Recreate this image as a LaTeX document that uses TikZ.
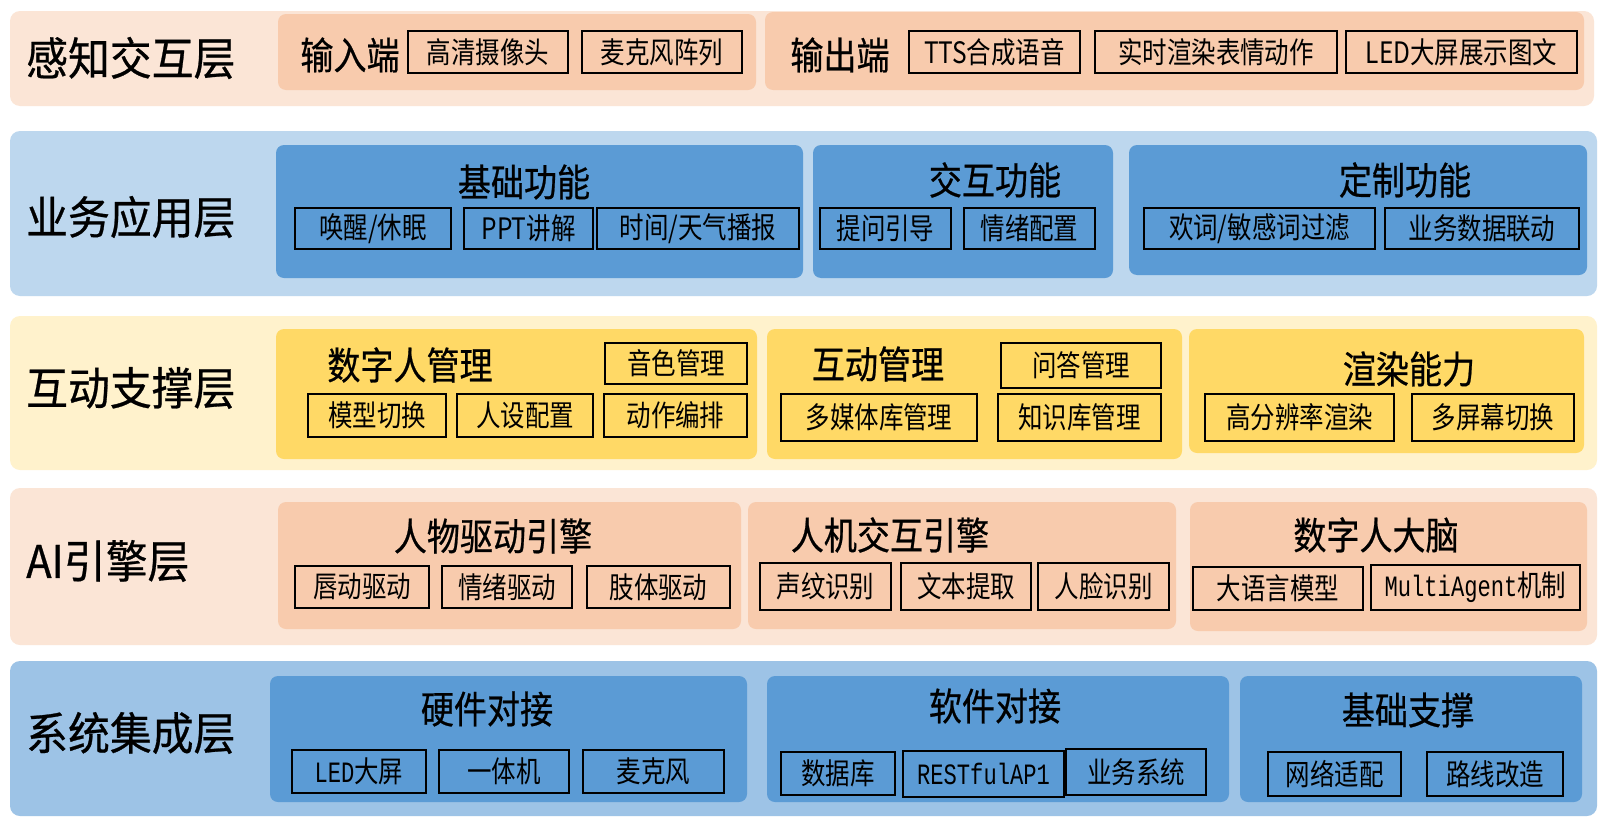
\documentclass[tikz,border=0pt]{standalone}
\usepackage{fontspec}
\setmainfont{Noto Sans CJK SC}
\newfontfamily\itemfont[FakeStretch=0.83]{Noto Sans CJK SC}
\newfontfamily\headfont[FakeStretch=0.87,FakeBold=0.6]{Noto Sans CJK SC}
\newfontfamily\layerfont[FakeStretch=0.93,FakeBold=0.6]{Noto Sans CJK SC}
\newfontfamily\itemmono[FakeStretch=0.75]{Liberation Mono}
\definecolor{peachband}{HTML}{FBE5D6}
\definecolor{peachgrp}{HTML}{F8CBAD}
\definecolor{blueband}{HTML}{BDD7EE}
\definecolor{blueband2}{HTML}{9DC3E6}
\definecolor{bluegrp}{HTML}{5B9BD5}
\definecolor{yelband}{HTML}{FFF2CC}
\definecolor{yelgrp}{HTML}{FFD966}
\newcommand\mkbox[7][]{\node[#1, minimum width={(#5-#3)*1pt}, minimum height={(#6-#4)*1pt}] (#2) at ({(#3+#5)/2},{(#4+#6)/2}) {#7};}
\tikzset{
  band/.style={rectangle, rounded corners=10pt, inner sep=0pt, draw=none},
  grp/.style={rectangle, rounded corners=8pt, inner sep=0pt, draw=none},
  item/.style={rectangle, draw=black, line width=1.8pt, inner sep=0pt, font=\itemfont\fontsize{29.5}{32}\selectfont},
  head/.style={inner sep=0pt, font=\headfont\fontsize{38}{40}\selectfont},
  layer/.style={inner sep=0pt, anchor=west, font=\layerfont\fontsize{45}{48}\selectfont}
}
\begin{document}
\begin{tikzpicture}[x=1pt,y=-1pt]
\fill[white] (0,0) rectangle (1600,819);
\useasboundingbox (0,0) rectangle (1600,819);
% ---------- bands
\mkbox[band, fill=peachband]{b1}{10}{11}{1594}{106}{}
\mkbox[band, fill=blueband]{b2}{10}{131}{1597}{296}{}
\mkbox[band, fill=yelband]{b3}{10}{316}{1597}{470}{}
\mkbox[band, fill=peachband]{b4}{10}{488}{1597}{645}{}
\mkbox[band, fill=blueband2]{b5}{10}{661}{1597}{816}{}
% ---------- layer titles
\node[layer] (l1) at (26,58) {感知交互层};
\node[layer] (l2) at (26,217) {业务应用层};
\node[layer] (l3) at (26,388) {互动支撑层};
\node[layer] (l4) at (26,561) {AI引擎层};
\node[layer] (l5) at (26,733) {系统集成层};
% ---------- row 1
\mkbox[grp, fill=peachgrp]{g1a}{278}{14}{756}{90}{}
\mkbox[grp, fill=peachgrp]{g1b}{765}{12}{1584}{90}{}
\node[head] (h1a) at (350,55) {输入端};
\node[head] (h1b) at (840,55) {输出端};
\mkbox[item]{i11}{408}{31}{568}{73}{高清摄像头}
\mkbox[item]{i12}{582}{31}{742}{73}{麦克风阵列}
\mkbox[item]{i13}{909}{31}{1080}{73}{TTS合成语音}
\mkbox[item]{i14}{1095}{31}{1337}{73}{实时渲染表情动作}
\mkbox[item]{i15}{1346}{31}{1577}{73}{LED大屏展示图文}
% ---------- row 2
\mkbox[grp, fill=bluegrp]{g2a}{276}{145}{803}{278}{}
\mkbox[grp, fill=bluegrp]{g2b}{813}{145}{1113}{278}{}
\mkbox[grp, fill=bluegrp]{g2c}{1129}{145}{1587}{275}{}
\node[head] (h2a) at (524,182) {基础功能};
\node[head] (h2b) at (995,180) {交互功能};
\node[head] (h2c) at (1405,180) {定制功能};
\mkbox[item]{i21}{295}{208}{451}{249}{唤醒/休眠}
\mkbox[item]{i22}{464}{208}{593}{249}{PPT讲解}
\mkbox[item]{i23}{597}{208}{799}{249}{时间/天气播报}
\mkbox[item]{i24}{820}{208}{951}{249}{提问引导}
\mkbox[item]{i25}{964}{208}{1095}{249}{情绪配置}
\mkbox[item]{i26}{1144}{208}{1375}{249}{欢词/敏感词过滤}
\mkbox[item]{i27}{1385}{208}{1579}{249}{业务数据联动}
% ---------- row 3
\mkbox[grp, fill=yelgrp]{g3a}{276}{329}{757}{459}{}
\mkbox[grp, fill=yelgrp]{g3b}{767}{329}{1182}{459}{}
\mkbox[grp, fill=yelgrp]{g3c}{1189}{329}{1584}{453}{}
\node[head] (h3a) at (410,365) {数字人管理};
\node[head] (h3b) at (878,364) {互动管理};
\node[head] (h3c) at (1409,369) {渲染能力};
\mkbox[item]{i31}{605}{343}{747}{384}{音色管理}
\mkbox[item]{i32}{308}{394}{446}{437}{模型切换}
\mkbox[item]{i33}{457}{394}{593}{437}{人设配置}
\mkbox[item]{i34}{604}{394}{747}{437}{动作编排}
\mkbox[item]{i35}{1001}{343}{1161}{388}{问答管理}
\mkbox[item]{i36}{781}{394}{977}{441}{多媒体库管理}
\mkbox[item]{i37}{998}{394}{1161}{441}{知识库管理}
\mkbox[item]{i38}{1205}{394}{1394}{441}{高分辨率渲染}
\mkbox[item]{i39}{1412}{394}{1574}{441}{多屏幕切换}
% ---------- row 4
\mkbox[grp, fill=peachgrp]{g4a}{278}{502}{741}{629}{}
\mkbox[grp, fill=peachgrp]{g4b}{748}{502}{1176}{629}{}
\mkbox[grp, fill=peachgrp]{g4c}{1190}{502}{1587}{631}{}
\node[head] (h4a) at (493,536) {人物驱动引擎};
\node[head] (h4b) at (890,535) {人机交互引擎};
\node[head] (h4c) at (1376,535) {数字人大脑};
\mkbox[item]{i41}{295}{566}{429}{608}{唇动驱动}
\mkbox[item]{i42}{442}{566}{572}{608}{情绪驱动}
\mkbox[item]{i43}{587}{566}{730}{608}{肢体驱动}
\mkbox[item]{i44}{760}{563}{891}{610}{声纹识别}
\mkbox[item]{i45}{901}{563}{1031}{610}{文本提取}
\mkbox[item]{i46}{1038}{563}{1169}{610}{人脸识别}
\mkbox[item]{i47}{1193}{567}{1363}{610}{大语言模型}
\mkbox[item]{i48}{1371}{565}{1580}{610}{{\itemmono MultiAgent}机制}
% ---------- row 5
\mkbox[grp, fill=bluegrp]{g5a}{270}{676}{747}{802}{}
\mkbox[grp, fill=bluegrp]{g5b}{767}{676}{1229}{802}{}
\mkbox[grp, fill=bluegrp]{g5c}{1240}{676}{1582}{802}{}
\node[head] (h5a) at (487,709) {硬件对接};
\node[head] (h5b) at (995,706) {软件对接};
\node[head] (h5c) at (1408,710) {基础支撑};
\mkbox[item]{i51}{292}{750}{426}{793}{{\itemmono LED}大屏}
\mkbox[item]{i52}{439}{750}{569}{793}{一体机}
\mkbox[item]{i53}{583}{750}{724}{793}{麦克风}
\mkbox[item]{i54}{781}{752}{895}{795}{数据库}
\mkbox[item]{i55}{903}{751}{1064}{797}{{\itemmono RESTfulAP1}}
\mkbox[item]{i56}{1066}{749}{1206}{795}{业务系统}
\mkbox[item]{i57}{1268}{752}{1401}{796}{网络适配}
\mkbox[item]{i58}{1427}{752}{1563}{796}{路线改造}
\end{tikzpicture}
\end{document}
